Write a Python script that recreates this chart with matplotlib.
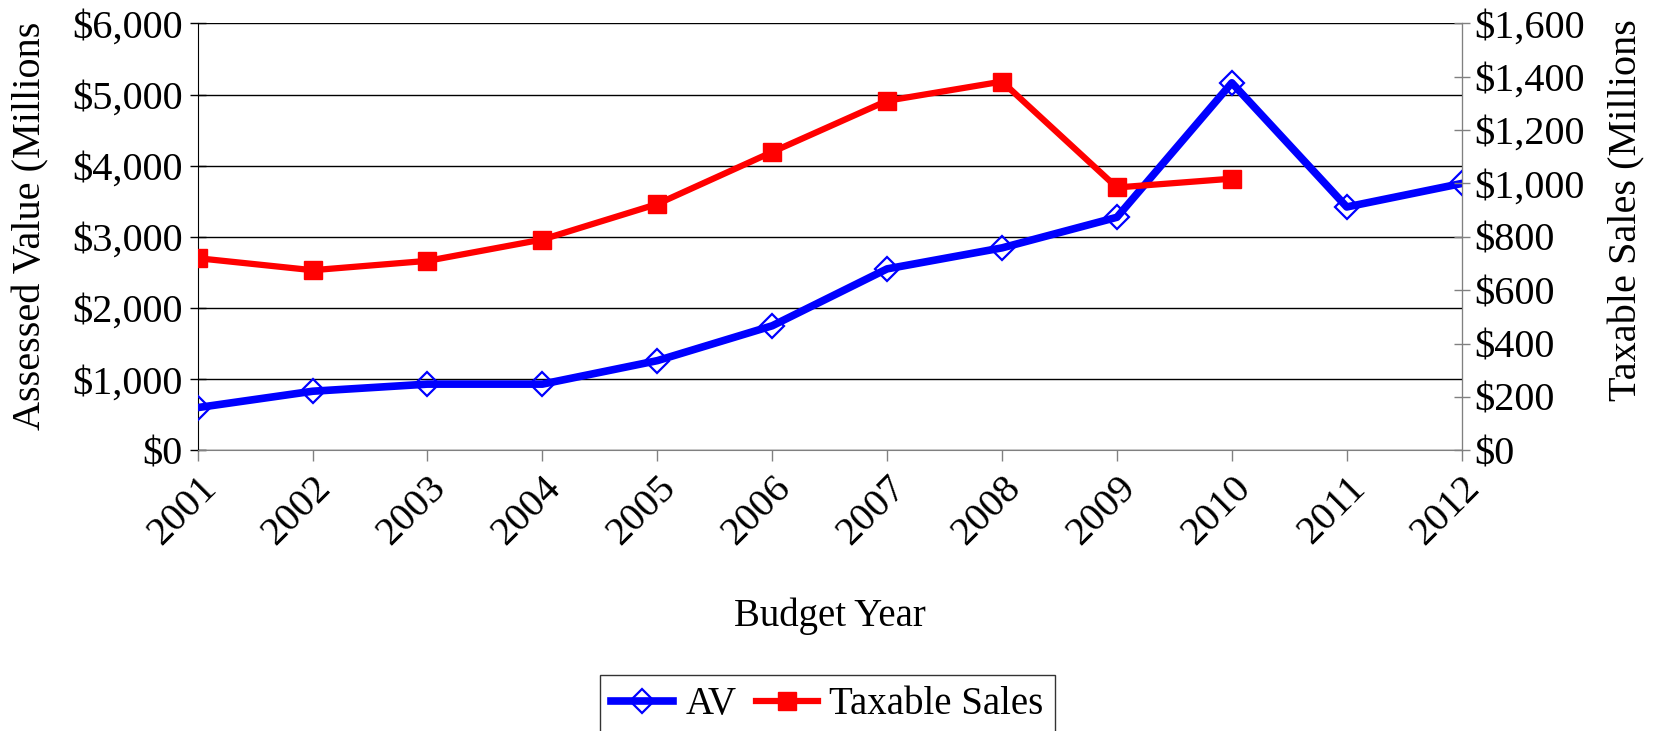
import matplotlib
matplotlib.use("Agg")
import matplotlib.pyplot as plt
from matplotlib.ticker import FuncFormatter, MultipleLocator

years = ["2001", "2002", "2003", "2004", "2005", "2006",
         "2007", "2008", "2009", "2010", "2011", "2012"]
av_values = [600, 830, 930, 930, 1260, 1750, 2550, 2845, 3275, 5165, 3420, 3750]
sales_years = ["2001", "2002", "2003", "2004", "2005",
               "2006", "2007", "2008", "2009", "2010"]
sales_values = [720, 675, 710, 790, 923, 1118, 1310, 1382, 985, 1018]

plt.rcParams['font.family'] = ['Liberation Serif', 'DejaVu Serif']
FS = 29

fig = plt.figure(figsize=(16.57, 7.31), dpi=100)
ax = fig.add_axes([0.1193, 0.384, 0.7628, 0.584])
ax2 = ax.twinx()

x_av = list(range(len(years)))
x_s = [years.index(y) for y in sales_years]

l1, = ax.plot(x_av, av_values, color='#0000FF', lw=5.5, marker='D', ms=12,
              mfc='none', mec='#0000FF', mew=1.6, label='AV', zorder=3)
l2, = ax2.plot(x_s, sales_values, color='#FF0000', lw=4.5, marker='s', ms=13,
               mfc='#FF0000', mec='#FF0000', label='Taxable Sales', zorder=3)

ax.set_xlim(0, len(years) - 1)
ax.set_ylim(0, 6000)
ax2.set_ylim(0, 1600)
ax.yaxis.set_major_locator(MultipleLocator(1000))
ax2.yaxis.set_major_locator(MultipleLocator(200))
fmt = FuncFormatter(lambda v, p: "${:,.0f}".format(v))
ax.yaxis.set_major_formatter(fmt)
ax2.yaxis.set_major_formatter(fmt)

ax.set_xticks(x_av)
ax.set_xticklabels(years, rotation=45, ha='right', rotation_mode='anchor',
                   fontsize=FS)
ax.tick_params(axis='x', direction='out', length=8, width=1, color='#808080',
               pad=6)
ax.tick_params(axis='y', direction='inout', length=12, width=1, labelsize=FS,
               pad=5)
ax2.tick_params(axis='y', direction='inout', length=12, width=1, labelsize=FS,
                color='#808080', pad=3)

ax.grid(axis='y', color='black', lw=1)
ax.set_axisbelow(True)
for a in (ax, ax2):
    a.spines['top'].set_visible(False)
ax.spines['left'].set_color('black')
ax.spines['bottom'].set_color('#808080')
ax2.spines['right'].set_color('#808080')
ax2.spines['left'].set_visible(False)
ax2.spines['bottom'].set_visible(False)

ax.set_ylabel("Assessed Value (Millions", fontsize=FS)
ax.yaxis.set_label_coords(-0.117, 0.525)
ax2.set_ylabel("Taxable Sales (Millions", fontsize=FS)
ax2.yaxis.set_label_coords(1.116, 0.562)
ax.set_xlabel("Budget Year", fontsize=FS - 1)
ax.xaxis.set_label_coords(0.5, -0.345)

leg = fig.legend([l1, l2], ['AV', 'Taxable Sales'], loc='upper center',
                 bbox_to_anchor=(0.4994, 0.077), ncol=2, fontsize=FS - 1,
                 frameon=True, fancybox=False, edgecolor='black',
                 handlelength=1.6, columnspacing=0.5, handletextpad=0.3,
                 borderpad=0.3, borderaxespad=0)
leg.get_frame().set_linewidth(1)

fig.savefig("out.png", dpi=100)
